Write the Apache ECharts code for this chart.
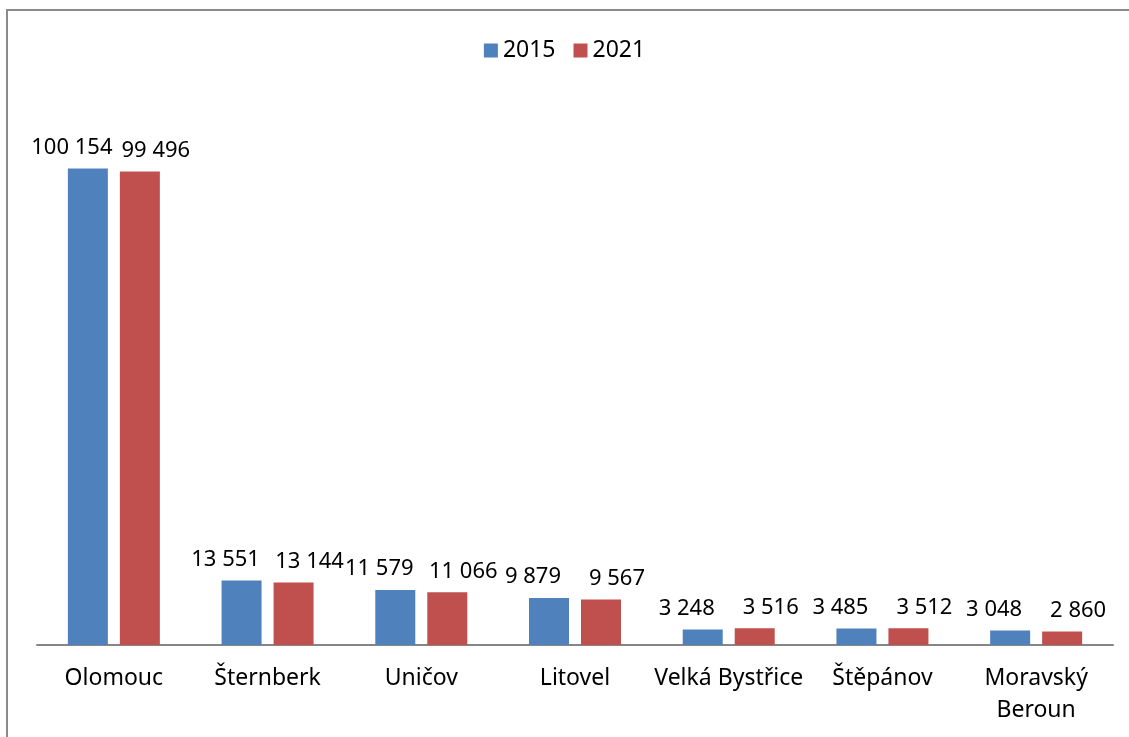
<!DOCTYPE html>
<html>
<head>
<meta charset="utf-8">
<script src="https://cdn.jsdelivr.net/npm/echarts@6/dist/echarts.min.js"></script>
<style>
html,body{margin:0;padding:0;background:#fff;}
#main{width:1129px;height:737px;}
</style>
</head>
<body>
<div id="main"></div>
<script>
// obce
var mesta = ['Olomouc', 'Šternberk', 'Uničov', 'Litovel', 'Velká Bystřice', 'Štěpánov', 'Moravský\nBeroun'];
var roky = ['2015', '2021'];
var hodnoty2015 = [100154, 13551, 11579, 9879, 3248, 3485, 3048];
var hodnoty2021 = [99496, 13144, 11066, 9567, 3516, 3512, 2860];

function mezery(v) {
    return String(v).replace(/\B(?=(\d{3})+(?!\d))/g, ' ');
}

var chart = echarts.init(document.getElementById('main'));

var font = '"Noto Sans", sans-serif';

var option = {
    backgroundColor: '#fff',
    color: ['#4F81BD', '#C0504D'],
    textStyle: {fontFamily: font},
    graphic: [{
        type: 'rect',
        shape: {x: 7, y: 10, width: 1300, height: 900},
        style: {fill: 'none', stroke: '#8a8a8a', lineWidth: 2},
        silent: true
    }],
    legend: {
        top: 34,
        left: 'center',
        itemWidth: 14,
        itemHeight: 14,
        itemGap: 18,
        icon: 'rect',
        textStyle: {fontSize: 23, color: '#000', fontFamily: font},
        data: roky
    },
    grid: {left: 37, right: 16, top: 74, bottom: 92, containLabel: false},
    xAxis: {
        type: 'category',
        data: mesta,
        axisLine: {lineStyle: {color: '#868686', width: 2}},
        axisTick: {show: false},
        axisLabel: {
            interval: 0,
            margin: 17,
            fontSize: 23,
            lineHeight: 32,
            color: '#000',
            fontFamily: font
        }
    },
    yAxis: {
        type: 'value',
        min: 0,
        max: 120000,
        show: false,
        splitLine: {show: false}
    },
    series: [
        {
            name: roky[0],
            type: 'bar',
            data: hodnoty2015,
            barWidth: 40,
            barGap: '30%',
            label: {
                show: true,
                position: 'top',
                distance: 10,
                offset: [-16, 0],
                fontSize: 22,
                color: '#000',
                fontFamily: font,
                formatter: function (p) { return mezery(p.value); }
            }
        },
        {
            name: roky[1],
            type: 'bar',
            data: hodnoty2021,
            barWidth: 40,
            barGap: '30%',
            label: {
                show: true,
                position: 'top',
                distance: 10,
                offset: [16, 0],
                fontSize: 22,
                color: '#000',
                fontFamily: font,
                formatter: function (p) { return mezery(p.value); }
            }
        }
    ]
};

chart.setOption(option);
</script>
</body>
</html>
